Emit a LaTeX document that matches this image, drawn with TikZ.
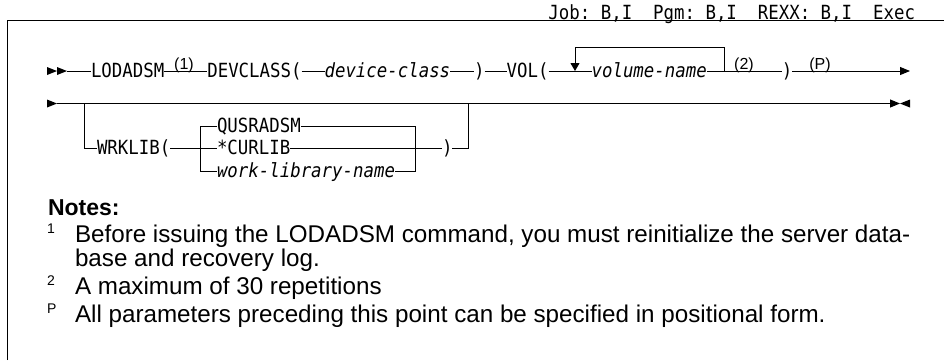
\documentclass[tikz,border=0pt]{standalone}
\usepackage{fontspec}
\usepackage{xcolor}
\usepackage{tikz}
\usetikzlibrary{positioning,arrows.meta}
\setmainfont{Liberation Sans}
\newfontfamily\railfont{DejaVu Sans Mono}[FakeStretch=0.892]
\definecolor{RAILink}{HTML}{000000}
\newcommand{\railsize}{\fontsize{19.5}{22}\selectfont}
\tikzset{
  kw/.style={inner sep=0pt, outer sep=0pt, font=\railfont\railsize, text height=14pt, text depth=1.4pt, text=RAILink},
  var/.style={kw, font=\railfont\railsize\itshape},
  fnref/.style={inner sep=0pt, outer sep=0pt, font=\fontsize{16}{17}\selectfont, text=RAILink},
  notetxt/.style={inner sep=0pt, outer sep=0pt, font=\fontsize{24.2}{27}\selectfont, text=RAILink},
  notemark/.style={inner sep=0pt, outer sep=0pt, font=\fontsize{14}{15}\selectfont, text=RAILink},
  rail/.style={line width=1pt, draw=RAILink},
  railarr/.style={rail, -{Triangle[length=10pt,width=8pt]}},
  looparr/.style={rail, -{Triangle[length=8pt,width=9pt]}},
  tri/.pic={\fill[RAILink] (0,-4) -- (10,0) -- (0,4) -- cycle;}
}
\begin{document}
\begin{tikzpicture}[x=1pt, y=-1pt]
  \useasboundingbox (0,0) rectangle (944,360);
  % frame and header
  \draw[rail] (7,360) -- (7,20.7) -- (944,20.7);
  \node[kw, anchor=base east] (hdr) at (915,19.2) {Job:~B,I~~Pgm:~B,I~~REXX:~B,I~~Exec};
  % first line
  \coordinate (r1a) at (47,71); \coordinate (r1b) at (57,71); \coordinate (r1c) at (67,71);
  \pic at (r1a) {tri}; \pic at (r1b) {tri};
  \node[kw, anchor=west] (lodadsm) at (91,71) {LODADSM};
  \node[kw, right=43pt of lodadsm] (devclass) {DEVCLASS(};
  \node[var, right=23pt of devclass] (devcls) {device-class};
  \node[kw, right=24pt of devcls] (rpa) {)};
  \node[kw, right=22pt of rpa] (vol) {VOL(};
  \node[var, right=43pt of vol] (volname) {volume-name};
  \node[kw, right=75pt of volname] (rpb) {)};
  \coordinate (r1e) at (910,71);
  \coordinate (lpL) at (575,71); \coordinate (lpR) at (724,71);
  \node[fnref, anchor=base] (fn1) at (184,69.5) {(1)};
  \node[fnref, anchor=base] (fn2) at (744,69.5) {(2)};
  \node[fnref, anchor=base] (fnP) at (820,69.5) {(P)};
  \draw[rail] (r1c) -- (lodadsm); \draw[rail] (lodadsm) -- (devclass); \draw[rail] (devclass) -- (devcls);
  \draw[rail] (devcls) -- (rpa); \draw[rail] (rpa) -- (vol); \draw[rail] (vol) -- (volname);
  \draw[rail] (volname) -- (rpb); \draw[railarr] (rpb) -- (r1e);
  \draw[looparr] (lpR) -- ++(0,-24) -| (lpL);
  % second line
  \coordinate (r2a) at (47,103.5); \coordinate (r2b) at (57,103.5); \coordinate (r2e) at (900,103.5);
  \pic at (r2a) {tri}; \pic[rotate=180] at (910,103.5) {tri};
  \draw[railarr] (r2b) -- (r2e);
  \coordinate (brL) at (84,103.5); \coordinate (brR) at (468,103.5);
  \node[kw, anchor=west] (wrklib) at (97,148.5) {WRKLIB(};
  \node[kw, anchor=west] (curlib) at (217,148.5) {*CURLIB};
  \node[kw, anchor=west] (qusr) at (217,126) {QUSRADSM};
  \node[var, anchor=west] (wlib) at (217,171) {work-library-name};
  \node[kw, anchor=west] (rpc) at (442,148.5) {)};
  \coordinate (chRt) at (415,126); \coordinate (chRb) at (415,171);
  \draw[rail] (brL) |- (wrklib); \draw[rail] (wrklib) -- (curlib); \draw[rail] (curlib) -- (rpc);
  \draw[rail] (qusr.west) -- ++(-17,0) |- (wlib.west);
  \draw[rail] (qusr.east) -- (chRt) -- (chRb) -- (wlib.east);
  \draw[rail] (rpc) -| (brR);
  % notes
  \node[notetxt, anchor=base west, font=\bfseries\fontsize{23}{26}\selectfont] (notes) at (48,215) {Notes:};
  \node[notemark, anchor=base west] (m1) at (47,233) {1};
  \node[notetxt, anchor=base west] (t1a) at (75,242) {Before issuing the LODADSM command, you must reinitialize the server data-};
  \node[notetxt, anchor=base west] (t1b) at (75,266) {base and recovery log.};
  \node[notemark, anchor=base west] (m2) at (47,285) {2};
  \node[notetxt, anchor=base west] (t2) at (75,294) {A maximum of 30 repetitions};
  \node[notemark, anchor=base west] (mP) at (47,313) {P};
  \node[notetxt, anchor=base west] (t3) at (75,322) {All parameters preceding this point can be specified in positional form.};
\end{tikzpicture}
\end{document}
